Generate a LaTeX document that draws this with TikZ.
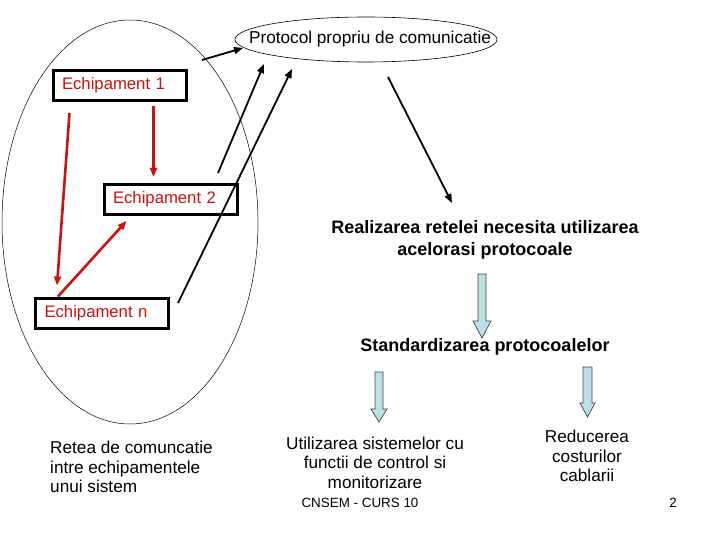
\documentclass[tikz,border=0pt]{standalone}
\usepackage{fontspec}
\setmainfont{Liberation Sans}
\usetikzlibrary{arrows.meta,shapes.geometric}
\definecolor{eqred}{RGB}{204,17,17}
\definecolor{blockblue}{RGB}{188,224,230}
\tikzset{
  eqbox/.style={draw=black,line width=3pt,rectangle,minimum height=30pt,
    text width=115pt,align=left,inner xsep=9pt,inner ysep=0pt,
    text=eqred,font=\fontsize{16.7}{19}\selectfont},
  redarrow/.style={draw=eqred,line width=2.6pt,-{Triangle[length=9pt,width=7pt]}},
  blackarrow/.style={draw=black,line width=1.8pt,-{Triangle[length=9pt,width=7pt]}},
  maintext/.style={font=\fontsize{17.2}{19.5}\selectfont,align=center,inner sep=0pt},
  bigtext/.style={font=\fontsize{18}{22}\selectfont\bfseries,align=center,inner sep=0pt},
  foottext/.style={font=\fontsize{13.4}{16}\selectfont,inner sep=0pt},
  blockarrow/.style={draw=black!75,line width=0.7pt,fill=blockblue}
}
\begin{document}
\begin{tikzpicture}[x=1pt,y=-1pt]
\useasboundingbox (0,0) rectangle (720,540);
% big ellipse
\node[draw,ellipse,line width=0.5pt,minimum width=256pt,minimum height=404pt,inner sep=0pt] (bigell) at (130,222) {};
% protocol ellipse
\node[draw,ellipse,line width=0.6pt,minimum width=262pt,minimum height=45pt,inner sep=0pt] (proto) at (366,39.5) {};
\node[maintext] (prototext) at (370,39.5) {Protocol propriu de comunicatie};
% equipment boxes
\node[eqbox] (e1) at (119.5,85.5) {Echipament 1};
\node[eqbox] (e2) at (170.5,199.5) {Echipament 2};
\node[eqbox] (en) at (102,313) {Echipament n};
% red arrows
\draw[redarrow] ([xshift=18pt,yshift=-11pt]e1.south west) -- ([xshift=23pt,yshift=11pt]en.north west);
\draw[redarrow] ([xshift=102pt,yshift=-4pt]e1.south west) -- ([xshift=51pt,yshift=6pt]e2.north west);
\draw[redarrow] ([xshift=24pt]en.north west) -- ([xshift=24pt,yshift=-5pt]e2.south west);
% black arrows
\coordinate (a1s) at (202,60); \coordinate (a1e) at (243,48);
\coordinate (a2s) at (218,173); \coordinate (a2e) at (264,64);
\coordinate (a3s) at (178,303); \coordinate (a3e) at (292,69);
\coordinate (a4s) at (388,77); \coordinate (a4e) at (452,203);
\draw[blackarrow] (a1s) -- (a1e);
\draw[blackarrow] (a2s) -- (a2e);
\draw[blackarrow] (a3s) -- (a3e);
\draw[blackarrow] (a4s) -- (a4e);
% texts
\node[bigtext] (real) at (485,239.5) {Realizarea retelei necesita utilizarea\\acelorasi protocoale};
\node[bigtext] (std) at (485,347) {Standardizarea protocoalelor};
\node[maintext,align=left,anchor=west] (retea) at (50,467) {Retea de comuncatie\\intre echipamentele\\unui sistem};
\node[maintext] (util) at (375,462.5) {Utilizarea sistemelor cu\\functii de control si\\monitorizare};
\node[maintext] (reduc) at (587,456) {Reducerea\\costurilor\\cablarii};
\node[foottext] (foot) at (360,503) {CNSEM - CURS 10};
\node[foottext] (page) at (673,503) {2};
% block arrows
\draw[blockarrow] (478,274) -- (486,274) -- (486,321) -- (491,321) -- (482,338) -- (473,321) -- (478,321) -- cycle;
\draw[blockarrow] (375,372) -- (383,372) -- (383,409) -- (387,409) -- (379,422) -- (371,409) -- (375,409) -- cycle;
\draw[blockarrow] (583,367) -- (592,367) -- (592,403) -- (595,403) -- (587.5,417) -- (580,403) -- (583,403) -- cycle;
\end{tikzpicture}
\end{document}
